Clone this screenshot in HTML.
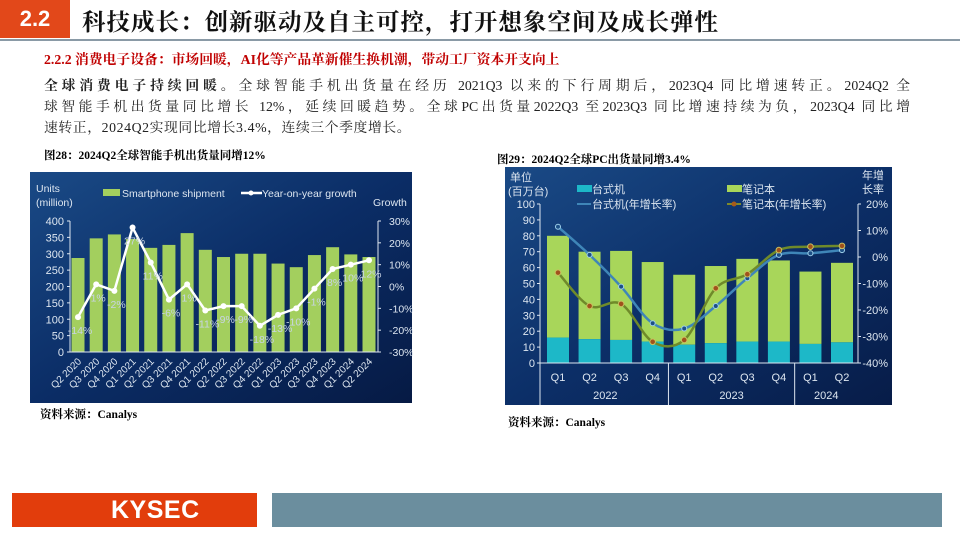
<!DOCTYPE html>
<html><head><meta charset="utf-8">
<style>
*{margin:0;padding:0;box-sizing:border-box}
body{width:960px;height:540px;position:relative;background:#fff;overflow:hidden;font-family:"Liberation Serif","Noto Serif CJK SC",serif}
.abs{position:absolute}
.para{left:44px;width:866px;font-size:13.8px;color:#222;line-height:21px;font-family:"Liberation Serif","Noto Serif CJK SC",serif;white-space:nowrap}
.j{text-align:justify;text-align-last:justify;white-space:normal}
</style></head><body>
<div class="abs" style="left:0;top:0;width:70px;height:38px;background:#e2481a;color:#fff;font:bold 22px 'Liberation Sans',sans-serif;text-align:center;line-height:38px">2.2</div>
<div class="abs" style="left:82px;top:3px;font-size:23.5px;font-weight:bold;color:#111;font-family:'Liberation Serif','Noto Serif CJK SC',serif;letter-spacing:1px">科技成长：创新驱动及自主可控，打开想象空间及成长弹性</div>
<div class="abs" style="left:0;top:39px;width:960px;height:2px;background:#8a9aa6"></div>
<div class="abs" style="left:44px;top:48px;font-size:13.8px;font-weight:bold;color:#c00000;font-family:'Liberation Serif','Noto Serif CJK SC',serif">2.2.2 消费电子设备：市场回暖，AI化等产品革新催生换机潮，带动工厂资本开支向上</div>
<div class="abs para j" style="top:75px"><b>全球消费电子持续回暖。</b>全球智能手机出货量在经历 2021Q3 以来的下行周期后，2023Q4 同比增速转正。2024Q2 全</div>
<div class="abs para j" style="top:96px">球智能手机出货量同比增长 12%，延续回暖趋势。全球PC出货量2022Q3 至2023Q3 同比增速持续为负，2023Q4 同比增</div>
<div class="abs para" style="top:117px;letter-spacing:0.6px">速转正，2024Q2实现同比增长3.4%，连续三个季度增长。</div>
<div class="abs" style="left:44px;top:147px;font-size:11.5px;font-weight:bold">图28：2024Q2全球智能手机出货量同增12%</div>
<div class="abs" style="left:497px;top:151px;font-size:11.5px;font-weight:bold">图29：2024Q2全球PC出货量同增3.4%</div>
<div class="abs" style="left:40px;top:406px;font-size:11.5px;font-weight:bold">资料来源：Canalys</div>
<div class="abs" style="left:508px;top:414px;font-size:11.5px;font-weight:bold">资料来源：Canalys</div>
<div class="abs" style="left:12px;top:493px;width:245px;height:34px;background:#e23d0c;color:#fff;font:bold 25px 'Liberation Sans',sans-serif;line-height:34px;padding-left:99px;letter-spacing:0.5px">KYSEC</div>
<div class="abs" style="left:272px;top:493px;width:670px;height:34px;background:#6b8e9e"></div>

<svg class="abs" style="left:0;top:0" width="960" height="540" id="svg">
<defs>
<linearGradient id="g1" x1="0" y1="0" x2="1" y2="1"><stop offset="0" stop-color="#1a4a86"/><stop offset="0.5" stop-color="#0b2d66"/><stop offset="1" stop-color="#061a44"/></linearGradient>
<linearGradient id="g2" x1="0" y1="0" x2="1" y2="1"><stop offset="0" stop-color="#1a4a86"/><stop offset="0.5" stop-color="#0c2f68"/><stop offset="1" stop-color="#071c48"/></linearGradient>
</defs>
<rect x="30" y="172" width="382" height="231" fill="url(#g1)"/>
<rect x="505" y="167" width="387" height="238" fill="url(#g2)"/>
<g id="c1"></g><g id="c2"></g>
</svg>
<script>
// Chart 1: smartphone
const phoneCats=["Q2 2020","Q3 2020","Q4 2020","Q1 2021","Q2 2021","Q3 2021","Q4 2021","Q1 2022","Q2 2022","Q3 2022","Q4 2022","Q1 2023","Q2 2023","Q3 2023","Q4 2023","Q1 2024","Q2 2024"];
const phoneShip=[287,347,359,345,318,327,363,312,290,300,300,270,259,296,320,298,290];
const phoneGrowth=[-14,1,-2,27,11,-6,1,-11,-9,-9,-18,-13,-10,-1,8,10,12];
const phoneLeftTicks=[0,50,100,150,200,250,300,350,400];
const phoneRightTicks=[-30,-20,-10,0,10,20,30];
// Chart 2: PC
const pcQuarters=["Q1","Q2","Q3","Q4","Q1","Q2","Q3","Q4","Q1","Q2"];
const pcYears=["2022","2023","2024"];
const pcDesktop=[16,15,14.5,13.5,11.5,12.5,13.5,13.5,12,13];
const pcTotal=[80,70,70.5,63.5,55.5,61,65.5,64.5,57.5,63];
const pcDesktopGrowth=[11.4,0.8,-11.2,-25,-27,-18.5,-8,0.8,1.4,2.6];
const pcNotebookGrowth=[-5.9,-18.5,-17.7,-32,-31.3,-11.8,-6.5,2.6,3.9,4.2];
const pcLeftTicks=[0,10,20,30,40,50,60,70,80,90,100];
const pcRightTicks=[-40,-30,-20,-10,0,10,20];

const NS="http://www.w3.org/2000/svg";
function mk(p,t,a,txt){const e=document.createElementNS(NS,t);for(const k in a)e.setAttribute(k,a[k]);if(txt!==undefined)e.textContent=txt;p.appendChild(e);return e;}
function smooth(pts){let d="M"+pts[0][0]+","+pts[0][1];for(let i=0;i<pts.length-1;i++){const p0=pts[i-1]||pts[i],p1=pts[i],p2=pts[i+1],p3=pts[i+2]||p2;const c1x=p1[0]+(p2[0]-p0[0])/6,c1y=p1[1]+(p2[1]-p0[1])/6,c2x=p2[0]-(p3[0]-p1[0])/6,c2y=p2[1]-(p3[1]-p1[1])/6;d+=` C${c1x},${c1y} ${c2x},${c2y} ${p2[0]},${p2[1]}`;}return d;}
const F="'Liberation Sans','Noto Sans CJK SC',sans-serif";

// ---- chart 1 ----
(function(){
const g=document.getElementById('c1');
const xL=70,xR=378,y0=352,yT=221;
const x=i=>78+i*(369-78)/(phoneCats.length-1);
const yl=v=>y0-(v/400)*(y0-yT);
const yr=v=>y0-((v+30)/60)*(y0-yT);
const col="#dde6f0";
let t=mk(g,'text',{x:36,y:192,fill:col,'font-size':10.5,'font-family':F},"Units");

mk(g,'text',{x:36,y:206,fill:col,'font-size':10.5,'font-family':F},"(million)");
t=mk(g,'text',{x:373,y:206,fill:col,'font-size':10.5,'font-family':F},"Growth");

t=mk(g,'rect',{x:103,y:189,width:17,height:7,fill:"#a3cf5e"});

mk(g,'text',{x:122,y:197,fill:col,'font-size':10.5,'font-family':F},"Smartphone shipment");
t=mk(g,'line',{x1:241,y1:193,x2:262,y2:193,stroke:"#fff",'stroke-width':2.5});

mk(g,'circle',{cx:251,cy:193,r:2.5,fill:"#fff"});
mk(g,'text',{x:262,y:197,fill:col,'font-size':10.5,'font-family':F},"Year-on-year growth");
phoneLeftTicks.forEach(v=>{t=mk(g,'text',{x:64,y:yl(v)+4,fill:col,'font-size':11,'font-family':F,'text-anchor':'end'},v);

mk(g,'line',{x1:xL-3,y1:yl(v),x2:xL,y2:yl(v),stroke:col,'stroke-width':1});});
phoneRightTicks.forEach(v=>{t=mk(g,'text',{x:389,y:yr(v)+4,fill:col,'font-size':10.5,'font-family':F},v+"%");

mk(g,'line',{x1:xR,y1:yr(v),x2:xR+3,y2:yr(v),stroke:col,'stroke-width':1});});
mk(g,'line',{x1:xL,y1:yT,x2:xL,y2:y0,stroke:col,'stroke-width':1});
mk(g,'line',{x1:xR,y1:yT,x2:xR,y2:y0,stroke:col,'stroke-width':1});
phoneShip.forEach((v,i)=>{t=mk(g,'rect',{x:x(i)-6.5,y:yl(v),width:13,height:y0-yl(v),fill:"#a3cf5e"});
});
mk(g,'line',{x1:xL,y1:y0,x2:xR,y2:y0,stroke:col,'stroke-width':1});
phoneCats.forEach((c,i)=>{t=mk(g,'text',{x:x(i)+4,y:y0+10,fill:col,'font-size':10,'font-family':F,'text-anchor':'end',transform:`rotate(-45 ${x(i)+4} ${y0+10})`},c);
});
const pts=phoneGrowth.map((v,i)=>[x(i),yr(v)]);
t=mk(g,'path',{d:pts.map((p,i)=>(i?'L':'M')+p[0]+','+p[1]).join(''),fill:'none',stroke:'#fff','stroke-width':2.5});

pts.forEach((p,i)=>{t=mk(g,'circle',{cx:p[0],cy:p[1],r:3,fill:'#fff'});

t=mk(g,'text',{x:p[0]+2,y:p[1]+17,fill:'#c8d4e4','font-size':10.5,'font-family':F,'text-anchor':'middle'},phoneGrowth[i]+"%");
});
})();

// ---- chart 2 ----
(function(){
const g=document.getElementById('c2');
const xL=540,xR=858,y0=363,yT=204;
const x=i=>558+i*(842-558)/(pcQuarters.length-1);
const yl=v=>y0-(v/100)*(y0-yT);
const yr=v=>y0-((v+40)/60)*(y0-yT);
const col="#dde6f0";
let t=mk(g,'text',{x:510,y:181,fill:col,'font-size':11,'font-family':F},"单位");

mk(g,'text',{x:508,y:195,fill:col,'font-size':11,'font-family':F},"(百万台)");
t=mk(g,'text',{x:862,y:179,fill:col,'font-size':11,'font-family':F},"年增");

mk(g,'text',{x:862,y:193,fill:col,'font-size':11,'font-family':F},"长率");
t=mk(g,'rect',{x:577,y:185,width:15,height:7,fill:"#1db8c8"});
mk(g,'text',{x:592,y:193,fill:col,'font-size':11,'font-family':F},"台式机");
t=mk(g,'rect',{x:727,y:185,width:15,height:7,fill:"#a8d65a"});
mk(g,'text',{x:742,y:193,fill:col,'font-size':11,'font-family':F},"笔记本");
t=mk(g,'line',{x1:577,y1:204,x2:591,y2:204,stroke:"#3f86b8",'stroke-width':2});
mk(g,'text',{x:592,y:208,fill:col,'font-size':11,'font-family':F},"台式机(年增长率)");
t=mk(g,'line',{x1:727,y1:204,x2:741,y2:204,stroke:"#7d8a2a",'stroke-width':2});
mk(g,'circle',{cx:734,cy:204,r:2.5,fill:"#a85a1a"});
mk(g,'text',{x:742,y:208,fill:col,'font-size':11,'font-family':F},"笔记本(年增长率)");
pcLeftTicks.forEach(v=>{t=mk(g,'text',{x:535,y:yl(v)+4,fill:col,'font-size':11,'font-family':F,'text-anchor':'end'},v);

mk(g,'line',{x1:xL-3,y1:yl(v),x2:xL,y2:yl(v),stroke:col});});
pcRightTicks.forEach(v=>{t=mk(g,'text',{x:888,y:yr(v)+4,fill:col,'font-size':11,'font-family':F,'text-anchor':'end'},v+"%");

mk(g,'line',{x1:xR,y1:yr(v),x2:xR+3,y2:yr(v),stroke:col});});
mk(g,'line',{x1:xL,y1:yT,x2:xL,y2:405,stroke:col});
mk(g,'line',{x1:xR,y1:yT,x2:xR,y2:y0,stroke:col});
pcTotal.forEach((v,i)=>{t=mk(g,'rect',{x:x(i)-11,y:yl(v),width:22,height:yl(pcDesktop[i])-yl(v),fill:"#a8d65a"});

t=mk(g,'rect',{x:x(i)-11,y:yl(pcDesktop[i]),width:22,height:y0-yl(pcDesktop[i]),fill:"#1db8c8"});
});
mk(g,'line',{x1:xL,y1:y0,x2:xR,y2:y0,stroke:col});
const step=(842-558)/(pcQuarters.length-1);
[3,7].forEach(k=>mk(g,'line',{x1:x(k)+step/2,y1:y0,x2:x(k)+step/2,y2:405,stroke:col}));
pcQuarters.forEach((q,i)=>{t=mk(g,'text',{x:x(i),y:381,fill:col,'font-size':11,'font-family':F,'text-anchor':'middle'},q);
});
[[0,3],[4,7],[8,9]].forEach((r,k)=>{t=mk(g,'text',{x:(x(r[0])+x(r[1]))/2,y:399,fill:col,'font-size':11,'font-family':F,'text-anchor':'middle'},pcYears[k]);
});
const dp=pcDesktopGrowth.map((v,i)=>[x(i),yr(v)]);
const np=pcNotebookGrowth.map((v,i)=>[x(i),yr(v)]);
t=mk(g,'path',{d:smooth(dp),fill:'none',stroke:'#3f86b8','stroke-width':2.5});

t=mk(g,'path',{d:smooth(np),fill:'none',stroke:'#6f8a2a','stroke-width':2.5});

dp.forEach(p=>{t=mk(g,'circle',{cx:p[0],cy:p[1],r:2.5,fill:'#1d4f86',stroke:'#9fd0ea','stroke-width':1});
});
np.forEach(p=>{t=mk(g,'circle',{cx:p[0],cy:p[1],r:2.8,fill:'#a0521c',stroke:'#c9c060','stroke-width':1});
});
})();
</script>
</body></html>
